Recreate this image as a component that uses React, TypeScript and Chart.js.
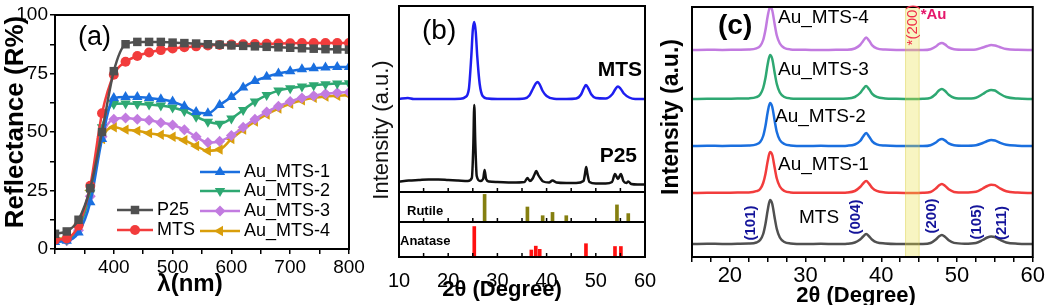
import React, { useEffect, useRef } from 'react';
import { Chart, registerables } from 'chart.js';

Chart.register(...registerables);

const FONT = "'Liberation Sans', Arial, Helvetica, sans-serif";

// ---------------- Panel (a): diffuse reflectance ----------------
const wavelengths = [300, 320, 340, 360, 380, 400, 420, 440, 460, 480, 500, 520, 540, 560, 580, 600, 620, 640, 660, 680, 700, 720, 740, 760, 780, 800];
const reflP25 = [6.5, 7.5, 12.5, 26, 50, 76, 87.5, 88.5, 88.5, 88.5, 88.2, 88, 87.8, 87.5, 87.3, 87, 86.8, 86.6, 86.4, 86.2, 86, 85.8, 85.6, 85.4, 85.3, 85.2];
const reflMTS = [4, 4.5, 10, 27, 58, 74.5, 80, 82.5, 84, 85, 85.7, 86.2, 86.6, 87, 87.2, 87.4, 87.5, 87.6, 87.7, 87.8, 87.9, 88, 88, 88, 88, 88];
const reflAu1 = [3, 3.5, 7, 20, 47, 64.5, 65, 65, 64.5, 64, 63, 61, 58.5, 58, 61.5, 65, 69, 71.8, 73.6, 75, 76, 76.8, 77.2, 77.6, 77.8, 77.8];
const reflAu2 = [3.5, 4, 9, 24, 52, 62, 62.2, 62, 61.7, 61.3, 60.5, 59, 56.5, 54.4, 53.5, 55.8, 59.4, 63, 65.8, 67.7, 68.7, 69.4, 70, 70.4, 70.7, 70.8];
const reflAu3 = [4, 3.5, 8, 22.5, 48, 55.5, 56, 55.5, 55, 54, 53, 51, 48, 45.5, 46, 48.5, 52, 55.5, 58.5, 61, 63, 64.5, 65.5, 66.3, 66.8, 67];
const reflAu4 = [4.5, 4.5, 10, 25, 47, 52, 51, 50.5, 49.5, 48.8, 48, 46.5, 44, 42, 42.5, 47, 51, 54.5, 57.5, 60, 62, 63.5, 64.6, 65.2, 65.5, 65.8];
const reflSeries = [reflP25, reflMTS, reflAu1, reflAu2, reflAu3, reflAu4];
const reflLabels = ['P25', 'MTS', 'Au_MTS-1', 'Au_MTS-2', 'Au_MTS-3', 'Au_MTS-4'];
const reflColors = ['#505050', '#F23C3C', '#1A6FDF', '#2EA872', '#C27BE0', '#D99E0B'];
const reflMarkers = ['rect', 'circle', 'triangle', 'triangle', 'rectRot', 'triangle'];
const reflRotations = [0, 0, 0, 180, 0, 270];
const reflRadius = [6, 5, 6, 6, 5.5, 6];
const reflTickY = [0, 25, 50, 75, 100];
const reflTickX = [400, 500, 600, 700, 800];

// ---------------- Panel (b): XRD of MTS and P25 ----------------
const mtsX = [10, 11.8, 13, 16, 20, 22.5, 23.5, 24.2, 24.7, 25.0, 25.3, 25.6, 25.9, 26.4, 27, 28, 30, 33, 35.5, 36.5, 37.3, 37.8, 38.2, 38.6, 39.2, 40, 41.5, 44, 46, 47, 47.5, 48, 48.5, 49.1, 50, 52, 53.3, 54, 54.5, 55, 55.7, 56.8, 58, 60];
const mtsY = [93, 94, 93, 93, 93, 93.3, 95, 103, 136, 162, 170, 160, 136, 108, 96, 93.5, 93, 93, 93.5, 96.5, 104, 108.5, 110, 107.5, 101, 96, 93.3, 93, 93.5, 97.5, 103, 107, 103.5, 97.5, 94, 93.5, 97.5, 103, 105.5, 103.5, 98.5, 94.5, 93, 93];
const p25X = [10, 12, 14, 16, 18, 20, 22, 24, 24.8, 25.1, 25.3, 25.5, 25.8, 26.5, 27.1, 27.4, 27.7, 28.3, 30, 33, 35.5, 36.1, 36.6, 37.1, 37.5, 37.9, 38.3, 38.7, 39.3, 40.5, 41.2, 42, 44, 46, 47.5, 47.8, 48.05, 48.3, 48.7, 50, 52, 53.3, 53.9, 54.5, 55.1, 55.6, 56.2, 56.6, 57.2, 58.5, 60];
const p25Y = [10.5, 11.5, 12, 12.5, 12.5, 12, 11.5, 11, 14, 45, 87, 50, 16, 11, 13, 22, 13, 10.5, 10, 9.5, 10, 14, 11, 13, 17, 21, 17, 14, 10.5, 9.5, 11.5, 9.5, 9, 9, 11, 18, 25, 18, 10, 8.5, 8.5, 10, 18, 13, 18, 11, 9, 10.5, 8, 7.5, 7.5];
const rutilePos = [27.4, 36.1, 39.2, 41.2, 44.0, 54.3, 56.6];
const rutileInt = [92, 50, 21, 32, 21, 57, 28];
const anatasePos = [25.3, 36.9, 37.8, 38.6, 48.0, 53.9, 55.1];
const anataseInt = [87, 20, 31, 22, 38, 30, 30];
const xrdBTickLabels = [10, 20, 30, 40, 50, 60];
const xrdBInnerTicks = [15, 20, 25, 30, 35, 40, 45, 50, 55];

// ---------------- Panel (c): XRD of Au_MTS series ----------------
const cX = [15, 17, 19, 21, 22.5, 23.5, 24, 24.4, 24.7, 25, 25.3, 25.6, 25.9, 26.2, 26.6, 27.2, 28, 30, 32, 34, 35.5, 36.5, 37.2, 37.6, 38, 38.4, 38.8, 39.4, 40.5, 42, 44, 45.5, 46.5, 47.2, 47.6, 48, 48.4, 48.9, 49.6, 51, 52.5, 53.4, 54, 54.5, 55, 55.6, 56.5, 58, 60];
const cMTS = [0, 0.3, 0, 0.2, 0.4, 1.5, 4, 10, 20, 34, 44, 40, 27, 15, 6.5, 2, 0.6, 0, 0.2, 0, 0.3, 1.5, 4.5, 7.5, 10, 7.5, 4.2, 1.6, 0.5, 0, 0, 0, 1, 4.5, 7.5, 9, 7.2, 3.7, 1.1, 0.3, 1, 4, 6.5, 7.5, 7, 4.5, 1.5, 0.3, 0];
const cAu1 = [0, 0.3, 0.2, 0.5, 0.6, 1.8, 4, 10, 19, 32, 41, 38, 26, 14.5, 6.5, 2, 0.6, 0.2, 0.3, 0.2, 0.5, 2, 6, 9.5, 12, 9.2, 5.2, 2.1, 0.6, 0.2, 0, 0.2, 1, 4.5, 7.5, 9, 7.2, 3.7, 1.1, 0.4, 1.2, 4.5, 7, 8.3, 7.8, 5, 1.8, 0.4, 0];
const cAu2 = [0, 0.3, 0, 0.3, 0.5, 1.6, 4, 10, 20, 34, 43, 39, 26, 14, 6, 2, 0.6, 0, 0.2, 0, 0.3, 1.5, 5, 9.5, 13, 9.2, 4.7, 1.6, 0.4, 0, 0, 0, 0.8, 3.5, 6, 7, 5.6, 2.6, 0.8, 0.3, 0.8, 3, 5, 6, 5.5, 3.5, 1.2, 0.3, 0];
const cAu3 = [0, 0.3, 0.2, 0.4, 0.6, 1.8, 4.5, 11, 21, 35, 44, 40, 27, 15, 6.5, 2, 0.6, 0.2, 0.2, 0.3, 0.5, 2, 6, 10, 13, 9.7, 5.2, 2.1, 0.6, 0.2, 0, 0.2, 1.2, 5, 8.5, 10, 8.2, 4.2, 1.3, 0.4, 1.3, 5, 7.8, 9, 8.5, 5.5, 2, 0.4, 0];
const cAu4 = [0, 0.3, 0, 0.3, 0.5, 1.6, 4, 10, 20, 34, 43, 39.5, 26.5, 14.5, 6.5, 2, 0.6, 0.2, 0, 0.2, 0.3, 1.5, 5, 9, 12.5, 9.2, 4.7, 1.6, 0.4, 0, 0, 0, 0.8, 3.5, 6, 7, 5.6, 2.6, 0.8, 0.3, 0.6, 2.5, 4, 5, 4.5, 3, 1, 0.2, 0];
const cSeries = [cMTS, cAu1, cAu2, cAu3, cAu4];
const cOffsets = [13, 64, 111, 158, 207];
const cLabels = ['MTS', 'Au_MTS-1', 'Au_MTS-2', 'Au_MTS-3', 'Au_MTS-4'];
const cColors = ['#505050', '#F23C3C', '#1A6FDF', '#2EA872', '#C27BE0'];
const cTickLabels = [20, 30, 40, 50, 60];
const cPlanes = ['(101)', '(004)', '(200)', '(105)', '(211)'];
const cPlanePos = [22.8, 36.6, 46.7, 52.6, 55.9];
const auBand = [43.2, 45.0];

// ---------------- helpers ----------------
function txt(ctx: CanvasRenderingContext2D, s: string, x: number, y: number, font: string, color = '#000', align: CanvasTextAlign = 'left', rot = 0) {
  ctx.save();
  ctx.font = font;
  ctx.fillStyle = color;
  ctx.textAlign = align;
  ctx.textBaseline = 'middle';
  ctx.translate(x, y);
  if (rot) ctx.rotate(rot);
  ctx.fillText(s, 0, 0);
  ctx.restore();
}

function frame(chart: any, lw: number) {
  const { ctx, chartArea: a } = chart;
  ctx.save();
  ctx.strokeStyle = '#000';
  ctx.lineWidth = lw;
  ctx.strokeRect(a.left, a.top, a.right - a.left, a.bottom - a.top);
  ctx.restore();
}

function innerTicks(chart: any, values: number[], len: number) {
  const { ctx, chartArea: a } = chart;
  const x = chart.scales.x;
  ctx.save();
  ctx.strokeStyle = '#000';
  ctx.lineWidth = 1.5;
  values.forEach((v) => {
    const px = x.getPixelForValue(v);
    ctx.beginPath();
    ctx.moveTo(px, a.bottom);
    ctx.lineTo(px, a.bottom - len);
    ctx.stroke();
  });
  ctx.restore();
}

function marker(ctx: CanvasRenderingContext2D, style: string, x: number, y: number, r: number, rotDeg: number, color: string) {
  ctx.save();
  ctx.fillStyle = color;
  ctx.beginPath();
  if (style === 'rect') {
    const s = r * Math.SQRT1_2;
    ctx.rect(x - s, y - s, 2 * s, 2 * s);
  } else if (style === 'circle') {
    ctx.arc(x, y, r, 0, Math.PI * 2);
  } else if (style === 'rectRot') {
    ctx.moveTo(x, y - r);
    ctx.lineTo(x + r, y);
    ctx.lineTo(x, y + r);
    ctx.lineTo(x - r, y);
    ctx.closePath();
  } else {
    let rad = (rotDeg * Math.PI) / 180;
    ctx.moveTo(x + Math.sin(rad) * r, y - Math.cos(rad) * r);
    rad += (2 * Math.PI) / 3;
    ctx.lineTo(x + Math.sin(rad) * r, y - Math.cos(rad) * r);
    rad += (2 * Math.PI) / 3;
    ctx.lineTo(x + Math.sin(rad) * r, y - Math.cos(rad) * r);
    ctx.closePath();
  }
  ctx.fill();
  ctx.restore();
}

const baseOpts = {
  responsive: false,
  animation: false as const,
  devicePixelRatio: 1,
  events: [] as any[],
};
const noPlugins = { legend: { display: false }, tooltip: { enabled: false } };

export default function App() {
  const aRef = useRef<HTMLCanvasElement>(null);
  const bMainRef = useRef<HTMLCanvasElement>(null);
  const bRutRef = useRef<HTMLCanvasElement>(null);
  const bAnaRef = useRef<HTMLCanvasElement>(null);
  const cRef = useRef<HTMLCanvasElement>(null);

  useEffect(() => {
    document.body.style.margin = '0';
    const charts: Chart[] = [];

    // ---------- (a) ----------
    const legendPos = [
      { x1: 117, x2: 153, y: 210 },
      { x1: 117, x2: 153, y: 230 },
      { x1: 200, x2: 240, y: 172 },
      { x1: 200, x2: 240, y: 191 },
      { x1: 200, x2: 240, y: 211 },
      { x1: 200, x2: 240, y: 231 },
    ];
    charts.push(
      new Chart(aRef.current!, {
        type: 'line',
        data: {
          datasets: reflSeries.map((vals, i) => ({
            label: reflLabels[i],
            data: wavelengths.map((w, j) => ({ x: w, y: vals[j] })),
            borderColor: reflColors[i],
            backgroundColor: reflColors[i],
            pointBackgroundColor: reflColors[i],
            pointBorderColor: reflColors[i],
            pointStyle: reflMarkers[i] as any,
            pointRotation: reflRotations[i],
            pointRadius: reflRadius[i],
            pointBorderWidth: 0,
            borderWidth: 2.5,
            cubicInterpolationMode: 'monotone' as const,
          })),
        },
        options: {
          ...baseOpts,
          layout: { padding: { left: 0, top: 15, right: 21, bottom: 0 } },
          plugins: noPlugins,
          scales: {
            x: {
              type: 'linear',
              min: 300,
              max: 800,
              afterFit: (s: any) => { s.height = 56; },
              border: { display: false },
              grid: { drawOnChartArea: false, tickLength: 5, color: '#000', lineWidth: 1.5 },
              ticks: {
                stepSize: 50,
                autoSkip: false,
                maxRotation: 0,
                padding: 2,
                color: '#000',
                font: { family: FONT, size: 19 },
                callback: (v: any) => (reflTickX.includes(Number(v)) ? String(v) : ''),
              },
            },
            y: {
              min: 0,
              max: 100,
              afterFit: (s: any) => { s.width = 55; },
              border: { display: false },
              grid: { drawOnChartArea: false, tickLength: 5, color: '#000', lineWidth: 1.5 },
              ticks: {
                stepSize: 12.5,
                autoSkip: false,
                padding: 2,
                color: '#000',
                font: { family: FONT, size: 19 },
                callback: (v: any) => (reflTickY.includes(Number(v)) ? String(v) : ''),
              },
            },
          },
        },
        plugins: [
          {
            id: 'decorA',
            afterDraw(chart: any) {
              const ctx = chart.ctx as CanvasRenderingContext2D;
              frame(chart, 2);
              txt(ctx, '(a)', 78, 38, `27px ${FONT}`);
              txt(ctx, 'Reflectance (R%)', 16, 122, `bold 26px ${FONT}`, '#000', 'center', -Math.PI / 2);
              txt(ctx, 'λ(nm)', 190, 284, `bold 24px ${FONT}`, '#000', 'center');
              legendPos.forEach((p, i) => {
                ctx.save();
                ctx.strokeStyle = reflColors[i];
                ctx.lineWidth = 2.5;
                ctx.beginPath();
                ctx.moveTo(p.x1, p.y);
                ctx.lineTo(p.x2, p.y);
                ctx.stroke();
                ctx.restore();
                marker(ctx, reflMarkers[i], (p.x1 + p.x2) / 2, p.y, reflRadius[i], reflRotations[i], reflColors[i]);
                txt(ctx, reflLabels[i], p.x2 + 4, p.y, `18px ${FONT}`);
              });
            },
          },
        ],
      } as any)
    );

    // ---------- (b) main ----------
    const hiddenX = { type: 'linear', min: 10, max: 60, display: false, offset: false };
    charts.push(
      new Chart(bMainRef.current!, {
        type: 'line',
        data: {
          datasets: [
            {
              label: 'MTS',
              data: mtsX.map((x, i) => ({ x, y: mtsY[i] })),
              borderColor: '#1E1EF0',
              borderWidth: 2.5,
              pointRadius: 0,
              cubicInterpolationMode: 'monotone',
            },
            {
              label: 'P25',
              data: p25X.map((x, i) => ({ x, y: p25Y[i] })),
              borderColor: '#111111',
              borderWidth: 2.5,
              pointRadius: 0,
              cubicInterpolationMode: 'monotone',
            },
          ],
        },
        options: {
          ...baseOpts,
          layout: { padding: { left: 59, right: 25, top: 6, bottom: 113 } },
          plugins: noPlugins,
          scales: { x: hiddenX, y: { min: 0, max: 186, display: false } },
        },
        plugins: [
          {
            id: 'decorB',
            afterDraw(chart: any) {
              const ctx = chart.ctx as CanvasRenderingContext2D;
              frame(chart, 2);
              innerTicks(chart, xrdBInnerTicks, 4);
              txt(ctx, '(b)', 82, 31, `28px ${FONT}`);
              txt(ctx, 'MTS', 302, 70, `bold 21px ${FONT}`, '#000', 'right');
              txt(ctx, 'P25', 297, 156, `bold 21px ${FONT}`, '#000', 'right');
              txt(ctx, 'Intensity (a.u.)', 42, 130, `22px ${FONT}`, '#111', 'center', -Math.PI / 2);
            },
          },
        ],
      } as any)
    );

    // ---------- (b) rutile ----------
    charts.push(
      new Chart(bRutRef.current!, {
        type: 'bar',
        data: {
          datasets: [
            {
              label: 'Rutile',
              data: rutilePos.map((x, i) => ({ x, y: rutileInt[i] })),
              backgroundColor: '#857F10',
              barThickness: 3,
            },
          ],
        },
        options: {
          ...baseOpts,
          layout: { padding: { left: 59, right: 25, top: 192, bottom: 83 } },
          plugins: noPlugins,
          scales: { x: { ...hiddenX, grid: { offset: false } }, y: { min: 0, max: 100, display: false } },
        },
        plugins: [
          {
            id: 'decorR',
            afterDraw(chart: any) {
              const ctx = chart.ctx as CanvasRenderingContext2D;
              frame(chart, 2);
              innerTicks(chart, xrdBInnerTicks, 4);
              txt(ctx, 'Rutile', 67, 211, `bold 13px ${FONT}`);
            },
          },
        ],
      } as any)
    );

    // ---------- (b) anatase ----------
    charts.push(
      new Chart(bAnaRef.current!, {
        type: 'bar',
        data: {
          datasets: [
            {
              label: 'Anatase',
              data: anatasePos.map((x, i) => ({ x, y: anataseInt[i] })),
              backgroundColor: '#FF1010',
              barThickness: 3,
            },
          ],
        },
        options: {
          ...baseOpts,
          layout: { padding: { left: 59, right: 25, top: 222, bottom: 0 } },
          plugins: noPlugins,
          scales: {
            x: {
              type: 'linear',
              min: 10,
              max: 60,
              offset: false,
              afterFit: (s: any) => { s.height = 48; },
              border: { display: false },
              grid: { display: false, offset: false },
              ticks: {
                stepSize: 10,
                autoSkip: false,
                maxRotation: 0,
                padding: 4,
                color: '#000',
                font: { family: FONT, size: 20 },
                callback: (v: any) => (xrdBTickLabels.includes(Number(v)) ? String(v) : ''),
              },
            },
            y: { min: 0, max: 100, display: false },
          },
        },
        plugins: [
          {
            id: 'decorAn',
            afterDraw(chart: any) {
              const ctx = chart.ctx as CanvasRenderingContext2D;
              frame(chart, 2);
              innerTicks(chart, xrdBInnerTicks, 4);
              txt(ctx, 'Anatase', 60, 241, `bold 13px ${FONT}`);
              txt(ctx, '2θ (Degree)', 162, 290, `bold 22px ${FONT}`, '#000', 'center');
            },
          },
        ],
      } as any)
    );

    // ---------- (c) ----------
    charts.push(
      new Chart(cRef.current!, {
        type: 'line',
        data: {
          datasets: cSeries.map((vals, i) => ({
            label: cLabels[i],
            data: cX.map((x, j) => ({ x, y: vals[j] + cOffsets[i] })),
            borderColor: cColors[i],
            borderWidth: 2.5,
            pointRadius: 0,
            cubicInterpolationMode: 'monotone' as const,
          })),
        },
        options: {
          ...baseOpts,
          layout: { padding: { left: 42, right: 13, top: 7, bottom: 0 } },
          plugins: noPlugins,
          scales: {
            x: {
              type: 'linear',
              min: 15,
              max: 60,
              afterFit: (s: any) => { s.height = 48; },
              border: { display: false },
              grid: { drawOnChartArea: false, tickLength: 5, color: '#000', lineWidth: 1.5 },
              ticks: {
                stepSize: 2.5,
                autoSkip: false,
                maxRotation: 0,
                padding: 1,
                color: '#000',
                font: { family: FONT, size: 22 },
                callback: (v: any) => (cTickLabels.includes(Number(v)) ? String(v) : ''),
              },
            },
            y: { min: 0, max: 250, display: false },
          },
        },
        plugins: [
          {
            id: 'decorC',
            afterDraw(chart: any) {
              const ctx = chart.ctx as CanvasRenderingContext2D;
              const a = chart.chartArea;
              const x = chart.scales.x;
              // Au (200) band
              const b0 = x.getPixelForValue(auBand[0]);
              const b1 = x.getPixelForValue(auBand[1]);
              ctx.save();
              ctx.fillStyle = 'rgba(235, 225, 70, 0.33)';
              ctx.fillRect(b0, a.top, b1 - b0, a.bottom - a.top);
              ctx.strokeStyle = 'rgba(215, 205, 60, 0.45)';
              ctx.lineWidth = 1;
              ctx.strokeRect(b0, a.top, b1 - b0, a.bottom - a.top);
              ctx.restore();
              frame(chart, 2);
              txt(ctx, '(c)', 68, 26, `bold 28px ${FONT}`);
              txt(ctx, 'Au_MTS-4', 128, 18, `19px ${FONT}`);
              txt(ctx, 'Au_MTS-3', 128, 70, `19px ${FONT}`);
              txt(ctx, 'Au_MTS-2', 125, 117, `19px ${FONT}`);
              txt(ctx, 'Au_MTS-1', 128, 165, `19px ${FONT}`);
              txt(ctx, 'MTS', 149, 218, `19px ${FONT}`);
              const planeY = [223, 217, 216, 222, 223];
              cPlanes.forEach((p, i) => {
                txt(ctx, p, x.getPixelForValue(cPlanePos[i]), planeY[i], `bold 15px ${FONT}`, '#14149A', 'center', -Math.PI / 2);
              });
              txt(ctx, '*(200)', x.getPixelForValue(44.1), 25, `15px ${FONT}`, '#F0304A', 'center', -Math.PI / 2);
              txt(ctx, '*Au', x.getPixelForValue(45.2), 15, `bold 15px ${FONT}`, '#E5176B', 'left');
              txt(ctx, 'Intensity (a.u.)', 22, 117, `bold 23px ${FONT}`, '#000', 'center', -Math.PI / 2);
              txt(ctx, '2θ (Degree)', 206, 296, `bold 22px ${FONT}`, '#000', 'center');
            },
          },
        ],
      } as any)
    );

    return () => charts.forEach((c) => c.destroy());
  }, []);

  const abs = (left: number): React.CSSProperties => ({ position: 'absolute', left, top: 0 });
  return (
    <div style={{ position: 'relative', width: 1046, height: 305, background: '#fff', overflow: 'hidden' }}>
      <canvas ref={aRef} width={370} height={305} style={abs(0)} />
      <canvas ref={bMainRef} width={330} height={305} style={abs(340)} />
      <canvas ref={bRutRef} width={330} height={305} style={abs(340)} />
      <canvas ref={bAnaRef} width={330} height={305} style={abs(340)} />
      <canvas ref={cRef} width={396} height={305} style={abs(650)} />
    </div>
  );
}
